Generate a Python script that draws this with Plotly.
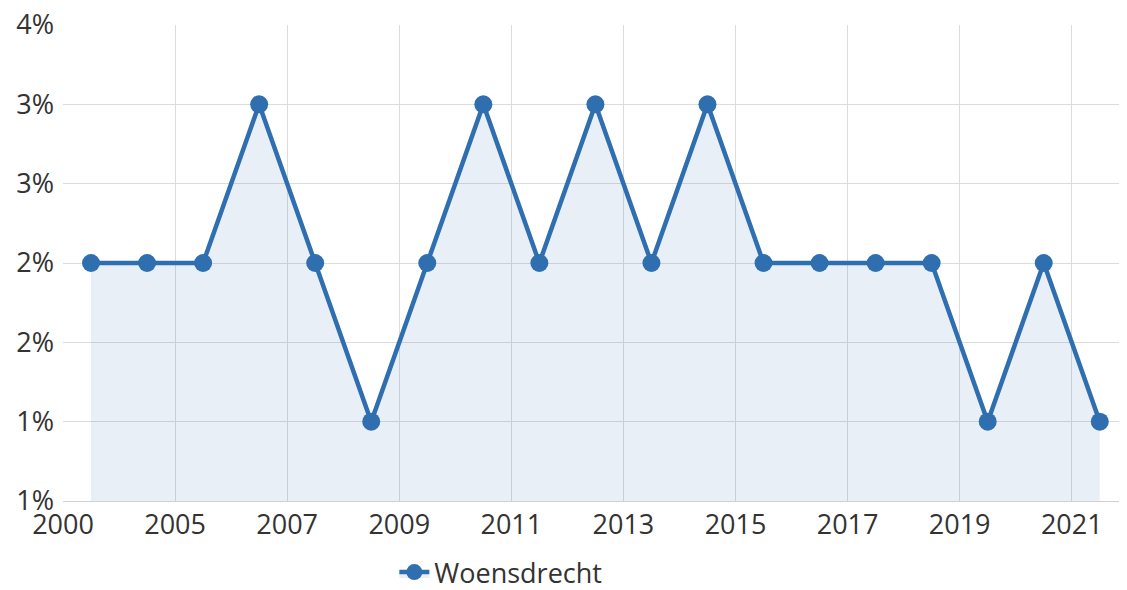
import plotly.graph_objects as go

years = ["2000", "2005", "2007", "2009", "2011", "2013", "2015", "2017", "2019", "2021"]
values = [2, 2, 2, 3, 2, 1, 2, 3, 2, 3, 2, 3, 2, 2, 2, 2, 1, 2, 1]
y_tick_vals = [0.5, 1.0, 1.5, 2.0, 2.5, 3.0, 3.5]
y_tick_text = ["1%", "1%", "2%", "2%", "3%", "3%", "4%"]
series_name = "Woensdrecht"

x_pos = list(range(len(values)))
x_tick_vals = [i * 2 - 0.5 for i in range(len(years))]

fig = go.Figure()
fig.add_trace(go.Scatter(
    x=x_pos, y=values, name=series_name,
    mode="lines+markers",
    line=dict(color="#2f6fb0", width=4.5),
    marker=dict(size=18, color="#2f6fb0"),
    fill="tozeroy", fillcolor="rgba(47,111,176,0.11)",
))

font_family = "Open Sans, Segoe UI, sans-serif"
fig.update_layout(
    width=1119, height=582,
    margin=dict(l=55, r=2, t=17, b=89),
    plot_bgcolor="white", paper_bgcolor="white",
    font=dict(family=font_family, size=27, color="#333333"),
    showlegend=True,
    legend=dict(orientation="h", x=0.312, xanchor="left",
                yref="container", y=0.03, yanchor="middle",
                font=dict(size=27, color="#333333")),
    xaxis=dict(range=[-0.5, 18.45], tickvals=x_tick_vals, ticktext=years,
               showgrid=True, gridcolor="#dcdcdc", gridwidth=1, automargin=False,
               zeroline=False, showline=True, linecolor="#d0d0d0",
               ticks="", ticklabeloverflow="allow",
               tickfont=dict(size=27, color="#333333")),
    yaxis=dict(range=[0.5, 3.5], tickvals=y_tick_vals, ticktext=y_tick_text,
               showgrid=True, gridcolor="#dcdcdc", gridwidth=1, automargin=False,
               zeroline=False, showline=False, ticks="", ticklabeloverflow="allow",
               ticklabelstandoff=8,
               tickfont=dict(size=27, color="#333333")),
)

fig.write_html("out.html")
